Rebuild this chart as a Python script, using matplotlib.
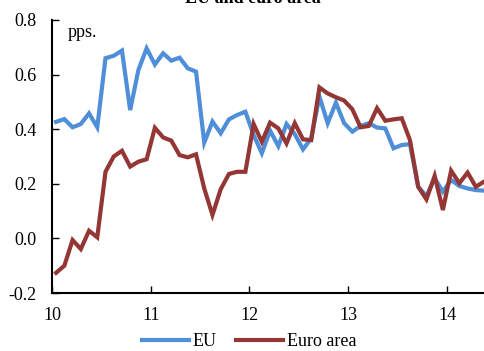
import numpy as np
import matplotlib
matplotlib.use("Agg")
import matplotlib.pyplot as plt
from matplotlib.lines import Line2D

plt.rcParams['font.family'] = ['Liberation Serif', 'DejaVu Serif']

# Monthly data, Jan 2010 - May 2014
eu = [0.427, 0.437, 0.407, 0.419, 0.458, 0.407, 0.660, 0.669, 0.688, 0.470,
      0.617, 0.696, 0.637, 0.678, 0.651, 0.662, 0.623, 0.611, 0.351, 0.428,
      0.385, 0.436, 0.452, 0.464, 0.379, 0.312, 0.395, 0.338, 0.419, 0.382,
      0.326, 0.367, 0.519, 0.422, 0.497, 0.422, 0.391, 0.412, 0.422, 0.406,
      0.403, 0.330, 0.342, 0.345, 0.189, 0.155, 0.220, 0.171, 0.214, 0.192,
      0.183, 0.177, 0.175]
euro_area = [-0.126, -0.100, -0.006, -0.039, 0.028, 0.004, 0.244, 0.300, 0.321, 0.263,
             0.281, 0.290, 0.405, 0.370, 0.358, 0.305, 0.297, 0.308, 0.183, 0.086,
             0.180, 0.236, 0.244, 0.244, 0.419, 0.354, 0.424, 0.403, 0.348, 0.422,
             0.363, 0.360, 0.553, 0.531, 0.517, 0.505, 0.473, 0.407, 0.412, 0.477,
             0.431, 0.436, 0.440, 0.360, 0.189, 0.143, 0.229, 0.104, 0.248, 0.202,
             0.241, 0.189, 0.208]
start_year = 10
xticks = [10, 11, 12, 13, 14]
yticks = [-0.2, 0.0, 0.2, 0.4, 0.6, 0.8]
series_names = ["EU", "Euro area"]
title = "EU and euro area"
unit = "pps."

c_eu = '#4F8ED9'
c_ea = '#943634'

W, H = 485, 351
fig = plt.figure(figsize=(W / 100, H / 100), dpi=100)
ax = fig.add_axes([52 / W, 1 - 293 / H, 1 - 52 / W, (293 - 20) / H])

x = start_year + (np.arange(len(eu)) + 0.5) / 12
ax.plot(x, eu, color=c_eu, lw=3.0, solid_joinstyle='miter', clip_on=False)
ax.plot(x, euro_area, color=c_ea, lw=3.0, solid_joinstyle='miter', clip_on=False)

ax.set_xlim(10, 10 + 433 / 98.75)
ax.set_ylim(-0.2, 0.8)
ax.set_xticks(xticks)
ax.set_xticklabels([str(t) for t in xticks])
ax.set_yticks(yticks)
ax.set_yticklabels([f"{t:.1f}" for t in yticks])
ax.tick_params(direction='in', length=5, width=1, labelsize=13, colors='black')
ax.tick_params(axis='y', pad=11)
ax.tick_params(axis='x', pad=10)
for s in ['top', 'right']:
    ax.spines[s].set_visible(False)
for s in ['left', 'bottom']:
    ax.spines[s].set_linewidth(1.5)
    ax.spines[s].set_color('black')

fig.text(68 / W, 1 - 24 / H, unit, fontsize=13, va='top', ha='left')
fig.text(253 / W, 1 - 3 / H, title, fontsize=13, fontweight='bold', ha='center', va='baseline')

handles = [Line2D([], [], color=c_eu, lw=3), Line2D([], [], color=c_ea, lw=3)]
fig.legend(handles, series_names, loc='center', bbox_to_anchor=(249 / W, 1 - 342 / H),
           ncol=2, frameon=False, fontsize=13, handlelength=2.6, handletextpad=0.2,
           columnspacing=1.1, borderpad=0, borderaxespad=0)

fig.savefig('out.png', dpi=100)
